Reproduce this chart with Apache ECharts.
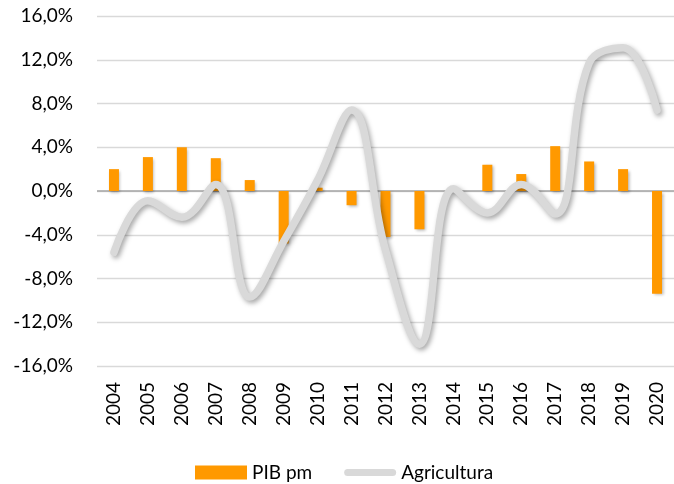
<!DOCTYPE html>
<html>
<head>
<meta charset="utf-8">
<script src="https://cdn.jsdelivr.net/npm/echarts@6/dist/echarts.min.js"></script>
<style>
  html, body { margin: 0; padding: 0; background: #fff; }
  #chart { width: 674px; height: 484px; }
</style>
</head>
<body>
<div id="chart"></div>
<script>
// datos
const years = ["2004", "2005", "2006", "2007", "2008", "2009", "2010", "2011", "2012",
  "2013", "2014", "2015", "2016", "2017", "2018", "2019", "2020"];
const pibPm = [2.0, 3.1, 4.0, 3.0, 1.0, -4.8, 0.3, -1.3, -4.2, -3.5, 0.2, 2.4, 1.55, 4.1, 2.7, 2.0, -9.4];
const agricultura = [-5.6, -0.9, -2.4, 0.6, -9.7, -4.6, 1.0, 7.4, -5.4, -14.0, 0.2, -2.0, 0.6, -2.1, 11.7, 13.1, 7.4];
const yTicks = { min: -16, max: 16, interval: 4 };

const font = "Lato";
// icono de leyenda: barra gris con extremos redondeados
const lineIcon = "path://M3.5,0H48.5A3.5,3.5,0,0,1,48.5,7H3.5A3.5,3.5,0,0,1,3.5,0Z";
const chart = echarts.init(document.getElementById("chart"));

const option = {
  animation: false,
  textStyle: { fontFamily: font },
  grid: { left: 97, top: 16, width: 580, height: 350 },
  legend: {
    left: 190,
    top: 458,
    itemWidth: 52,
    itemHeight: 14,
    itemGap: 32,
    textStyle: { fontFamily: font, fontSize: 19, color: "#000" },
    data: [
      { name: "PIB pm", icon: "rect", itemStyle: { shadowBlur: 0, shadowOffsetX: 0, shadowOffsetY: 0 } },
      {
        name: "Agricultura",
        icon: lineIcon,
        itemStyle: { color: "#D9D9D9", borderWidth: 0, shadowBlur: 0, shadowOffsetX: 0, shadowOffsetY: 0 },
        lineStyle: { width: 0, opacity: 0 },
      },
    ],
  },
  xAxis: {
    type: "category",
    data: years,
    axisLine: { show: false, onZero: false },
    axisTick: { show: false },
    axisLabel: { rotate: 90, margin: 16, fontSize: 19, color: "#000", fontFamily: font },
  },
  yAxis: {
    type: "value",
    min: yTicks.min,
    max: yTicks.max,
    interval: yTicks.interval,
    axisLine: { show: false },
    axisTick: { show: false },
    splitLine: { lineStyle: { color: "#D9D9D9", width: 1.3 } },
    axisLabel: {
      margin: 24,
      fontSize: 19,
      color: "#000",
      fontFamily: font,
      formatter: (v) => v.toFixed(1).replace(".", ",") + "%",
    },
  },
  series: [
    {
      name: "PIB pm",
      type: "bar",
      data: pibPm,
      barWidth: 10,
      itemStyle: {
        color: "#FF9900",
        shadowColor: "rgba(0,0,0,0.3)",
        shadowBlur: 3,
        shadowOffsetX: 1.5,
        shadowOffsetY: 1.5,
      },
      markLine: {
        silent: true,
        symbol: "none",
        label: { show: false },
        lineStyle: { color: "#A6A6A6", width: 1.5, type: "solid" },
        data: [{ yAxis: 0 }],
        z: 1,
      },
    },
    {
      name: "Agricultura",
      type: "line",
      data: agricultura,
      smooth: 0.4,
      symbol: "none",
      color: "#D9D9D9",
      lineStyle: {
        color: "#D9D9D9",
        width: 7.5,
        cap: "round",
        join: "round",
        shadowColor: "rgba(0,0,0,0.35)",
        shadowBlur: 5,
        shadowOffsetX: 2,
        shadowOffsetY: 2.5,
      },
      z: 3,
    },
  ],
};

chart.setOption(option);
</script>
</body>
</html>
